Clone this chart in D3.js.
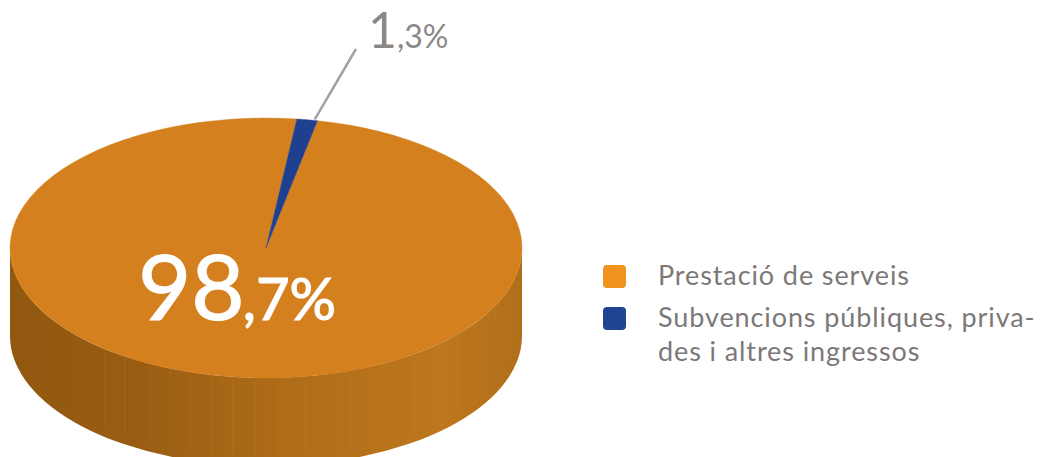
<!DOCTYPE html>
<html>
<head>
<meta charset="utf-8">
<script src="https://cdn.jsdelivr.net/npm/d3@7"></script>
<style>
  body { margin: 0; background: #fff; }
  svg { display: block; font-family: Lato, "Open Sans", sans-serif; }
</style>
</head>
<body>
<div id="chart"></div>
<script>
// == DATA == //
const categories = ["Prestació de serveis", "Subvencions públiques, priva-|des i altres ingressos"];
const values = [98.7, 1.3];
const colors = ["#D4801F", "#1F3F8F"];
const legendColors = ["#F0931F", "#1F4494"];
const labelMain = ["98", ",7%"];
const labelSmall = ["1", ",3%"];

// == SVG == //
const width = 1041, height = 457;
const svg = d3.select("#chart").append("svg")
    .attr("width", width)
    .attr("height", height);

// pie geometry (ellipse)
const cx = 266, cy = 248, rx = 256, ry = 130, depth = 88;
const startA = 11.6 * Math.PI / 180;

const pie = d3.pie().sort(null).value(d => d)
    .startAngle(startA).endAngle(startA + 2 * Math.PI);
const slices = pie(values);

// point on the ellipse for a d3 angle (0 = top, clockwise)
const pt = (a, dy = 0) => [cx + rx * Math.sin(a), cy - ry * Math.cos(a) + dy];

// gradient for the side wall
const defs = svg.append("defs");
const grad = defs.append("linearGradient")
    .attr("id", "wall")
    .attr("gradientUnits", "userSpaceOnUse")
    .attr("x1", cx - rx).attr("x2", cx + rx)
    .attr("y1", 0).attr("y2", 0);
grad.append("stop").attr("offset", "0%").attr("stop-color", "#925810");
grad.append("stop").attr("offset", "25%").attr("stop-color", "#995D12");
grad.append("stop").attr("offset", "55%").attr("stop-color", "#B06D19");
grad.append("stop").attr("offset", "85%").attr("stop-color", "#BD771C");
grad.append("stop").attr("offset", "100%").attr("stop-color", "#B16E1A");

// side wall: front half only (angles PI/2 .. 3PI/2, wrapped)
const wallG = svg.append("g").attr("class", "wall");
slices.forEach((s, i) => {
    [0, 2 * Math.PI].forEach(off => {
        const a0 = Math.max(s.startAngle, Math.PI / 2 + off);
        const a1 = Math.min(s.endAngle, 3 * Math.PI / 2 + off);
        if (a1 <= a0) return;
        const p0 = pt(a0), p1 = pt(a1), q1 = pt(a1, depth), q0 = pt(a0, depth);
        const large = (a1 - a0) > Math.PI ? 1 : 0;
        const d = `M${p0}A${rx},${ry} 0 ${large} 1 ${p1}L${q1}A${rx},${ry} 0 ${large} 0 ${q0}Z`;
        wallG.append("path")
            .attr("d", d)
            .attr("fill", i === 0 ? "url(#wall)" : d3.color(colors[i]).darker(0.8));
    });
});

// faint vertical seams on the wall
const seams = [105, 125, 150, 170, 192, 212, 233, 255, 278, 305, 350, 415, 440, 458, 475, 495, 510];
wallG.selectAll("line.seam")
    .data(seams)
    .enter().append("line")
    .attr("class", "seam")
    .attr("x1", d => d).attr("x2", d => d)
    .attr("y1", d => cy + ry * Math.sqrt(Math.max(0, 1 - ((d - cx) / rx) ** 2)) + 2)
    .attr("y2", d => cy + ry * Math.sqrt(Math.max(0, 1 - ((d - cx) / rx) ** 2)) + depth - 10)
    .attr("stroke", "#E0A050")
    .attr("stroke-opacity", 0.15)
    .attr("stroke-width", 1);

// top face: circular arcs squashed into an ellipse
const arc = d3.arc().innerRadius(0).outerRadius(rx);
svg.append("g")
    .attr("transform", `translate(${cx},${cy}) scale(1,${ry / rx})`)
    .selectAll("path")
    .data(slices)
    .enter().append("path")
    .attr("d", arc)
    .attr("fill", (d, i) => colors[i])
    .attr("stroke", (d, i) => colors[i])
    .attr("stroke-width", 0.5);

// leader line for the small slice
const small = slices[1];
const midA = (small.startAngle + small.endAngle) / 2;
const lp = pt(midA + 0.03);
svg.append("line")
    .attr("x1", lp[0]).attr("y1", lp[1] - 1)
    .attr("x2", 356).attr("y2", 49)
    .attr("stroke", "#A3A1A1")
    .attr("stroke-width", 2.5);

// small label
const sl = svg.append("text")
    .attr("x", 368).attr("y", 48)
    .attr("fill", "#8C8787");
sl.append("tspan").attr("font-size", 50).text(labelSmall[0]);
sl.append("tspan").attr("font-size", 32).text(labelSmall[1]);

// big label
const bl = svg.append("text")
    .attr("x", 138).attr("y", 320)
    .attr("fill", "#fff")
    .attr("stroke", "#fff")
    .attr("stroke-width", 1.2);
bl.append("tspan").attr("font-size", 92).text(labelMain[0]);
bl.append("tspan").attr("font-size", 58).attr("dx", -2).text(labelMain[1]);

// == LEGEND == //
const legend = svg.append("g")
    .attr("transform", "translate(603,265)");
const items = legend.selectAll("g")
    .data(categories)
    .enter().append("g")
    .attr("transform", (d, i) => `translate(0, ${i * 42})`);
items.append("rect")
    .attr("width", 23).attr("height", 23)
    .attr("rx", 4)
    .attr("fill", (d, i) => legendColors[i]);
items.append("text")
    .attr("x", 55).attr("y", 20)
    .attr("fill", "#7D7878")
    .attr("font-size", 27)
    .attr("letter-spacing", 0.9)
    .selectAll("tspan")
    .data(d => d.split("|"))
    .enter().append("tspan")
    .attr("x", 55)
    .attr("dy", (d, i) => i === 0 ? 0 : 34)
    .text(d => d);
</script>
</body>
</html>
